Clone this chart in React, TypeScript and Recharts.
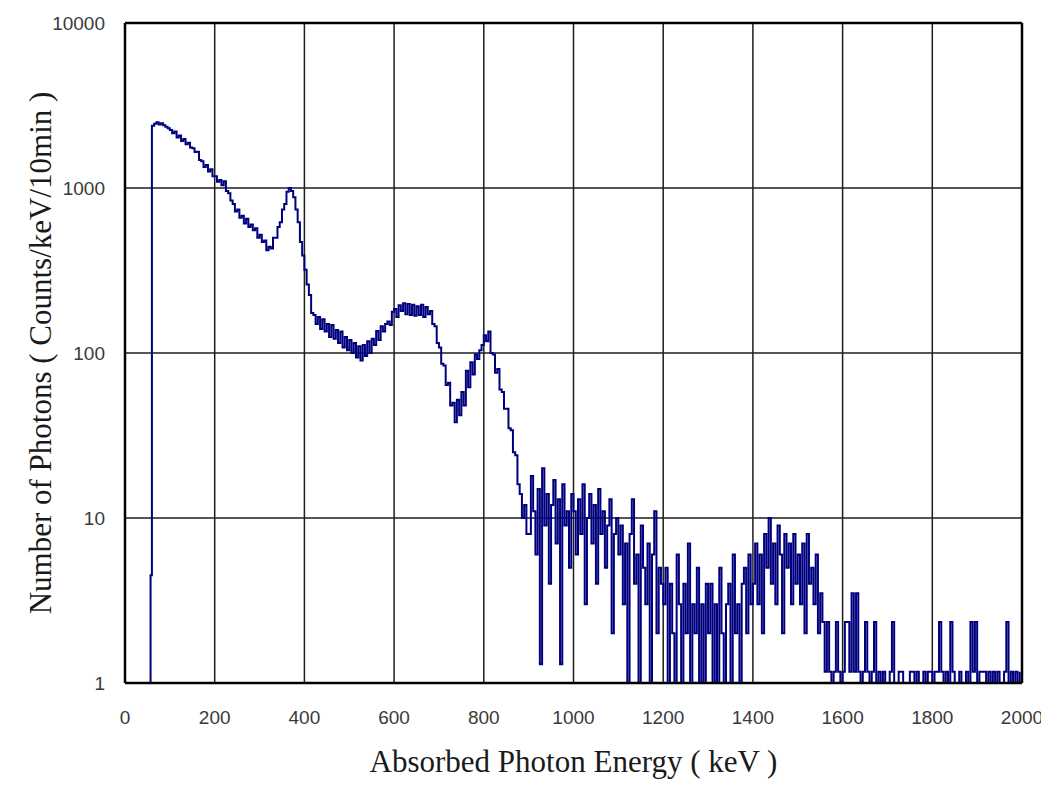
import { LineChart, Line, XAxis, YAxis, CartesianGrid, ReferenceLine } from 'recharts';

// onset of the spectrum (keV, counts/keV/10min)
const leadEnergy = [55, 57];
const leadCounts = [0.5, 4.5];

// 5 keV channels; 0.5 = empty channel (below the log axis)
const channelStep = 5;
const c060 = [2380, 2450, 2500, 2430, 2470, 2400, 2350, 2300];
const c100 = [2250, 2150, 2200, 2020, 2080, 1930, 1980, 1840, 1880, 1760, 1740, 1650, 1660, 1480, 1450, 1340, 1380, 1260, 1300, 1180];
const c200 = [1180, 1090, 1120, 1040, 1100, 960, 930, 840, 800, 720, 740, 660, 680, 610, 650, 580, 600, 555, 570, 500];
const c300 = [520, 470, 480, 420, 440, 430, 500, 500, 580, 620, 740, 800, 950, 1000, 960, 880, 740, 620, 470, 390];
const c400 = [320, 260, 225, 175, 170, 150, 165, 140, 160, 135, 150, 125, 148, 122, 138, 115, 135, 108, 125, 104];
const c500 = [120, 100, 115, 94, 110, 90, 112, 96, 118, 100, 122, 112, 136, 120, 145, 135, 150, 155, 148, 178];
const c600 = [185, 165, 195, 180, 200, 172, 198, 170, 196, 168, 192, 170, 196, 165, 190, 172, 180, 150, 145, 115];
const c700 = [108, 86, 84, 64, 66, 48, 50, 38, 52, 42, 58, 48, 78, 62, 88, 74, 98, 92, 104, 112];
const c800 = [128, 118, 135, 100, 98, 76, 80, 60, 58, 46, 46, 35, 34, 25, 24, 16, 14, 10, 12, 8];
const c900 = [8, 18, 11, 6, 15, 1.3, 20, 9, 14, 4, 12, 17, 7, 13, 1.3, 16, 9, 11, 5, 14];
const c1000 = [11, 6, 13, 8, 16, 3, 10, 14, 7, 12, 4, 15, 8, 11, 5, 9, 13, 2, 8, 10];
const c1100 = [6, 9, 3, 7, 0.5, 8, 13, 4, 6, 1, 9, 5, 3, 7, 0.5, 6, 11, 2, 5, 4];
const c1200 = [3, 5, 1, 4, 2, 0.5, 6, 3, 1, 4, 2, 7, 0.5, 3, 2, 5, 1, 3, 0.5, 4];
const c1300 = [2, 4, 0.5, 3, 1, 5, 2, 0.5, 3, 4, 1, 6, 2, 3, 0.5, 4, 5, 2, 6, 3];
const c1400 = [4, 7, 3, 6, 2, 8, 5, 10, 4, 7, 3, 9, 6, 2, 8, 5, 7, 3, 8, 4];
const c1500 = [6, 3, 7, 2, 8, 4, 5, 3, 6, 2, 3.5, 2.34, 1.17, 2.34, 1.17, 0.5, 1.17, 2.34, 1.17, 0.5];
const c1600 = [1.17, 2.34, 2.34, 1.17, 3.5, 1.17, 3.5, 1.17, 0.5, 1.17, 2.34, 1.17, 0.5, 1.17, 2.34, 0.5, 1.17, 0.5, 1.17, 0.5];
const c1700 = [0.5, 1.17, 2.34, 0.5, 0.5, 1.17, 1.17, 0.5, 0.5, 0.5, 1.17, 1.17, 0.5, 1.17, 0.5, 0.5, 1.17, 0.5, 1.17, 1.17];
const c1800 = [0.5, 1.17, 1.17, 2.34, 1.17, 0.5, 1.17, 0.5, 2.34, 1.17, 0.5, 0.5, 1.17, 0.5, 0.5, 1.17, 0.5, 2.34, 1.17, 2.34];
const c1900 = [0.5, 1.17, 1.17, 1.17, 0.5, 1.17, 0.5, 1.17, 0.5, 1.17, 0.5, 0.5, 1.17, 2.34, 0.5, 1.17, 0.5, 1.17, 0.5, 1.17];

const segments: [number, number[]][] = [
    [60, c060], [100, c100], [200, c200], [300, c300], [400, c400], [500, c500],
    [600, c600], [700, c700], [800, c800], [900, c900], [1000, c1000], [1100, c1100],
    [1200, c1200], [1300, c1300], [1400, c1400], [1500, c1500], [1600, c1600],
    [1700, c1700], [1800, c1800], [1900, c1900],
];

const xTicks = [0, 200, 400, 600, 800, 1000, 1200, 1400, 1600, 1800, 2000];
const yTicks = [1, 10, 100, 1000, 10000];

const data = [
    ...leadEnergy.map((e, i) => ({ energy: e, counts: leadCounts[i] })),
    ...segments.flatMap(([start, counts]) =>
        counts.map((c, i) => ({ energy: start + i * channelStep, counts: c }))
    ),
];

const tickStyle = { fontFamily: '"Liberation Sans", Arial, sans-serif', fontSize: 19, fill: '#3a3a3a' };
const titleStyle = { fontFamily: '"Liberation Serif", "Times New Roman", serif', fontSize: 31, fill: '#1a1a1a' };

export default function App() {
    return (
        <div style={{ width: 1041, height: 776, background: '#fff' }}>
            <LineChart width={1041} height={776} data={data} margin={{ top: 15, right: 27, left: 0, bottom: 0 }}>
                <CartesianGrid stroke="#1e1e1e" strokeWidth={1.5} horizontalValues={yTicks} verticalValues={xTicks} />
                <XAxis
                    dataKey="energy"
                    type="number"
                    domain={[0, 2000]}
                    ticks={xTicks}
                    interval={0}
                    allowDataOverflow
                    height={101}
                    tickLine={false}
                    tickSize={6}
                    tickMargin={22}
                    axisLine={{ stroke: '#000', strokeWidth: 2.5 }}
                    tick={tickStyle}
                    label={{ value: 'Absorbed Photon Energy ( keV )', position: 'insideBottom', offset: 12, style: titleStyle }}
                />
                <YAxis
                    scale="log"
                    domain={[1, 10000]}
                    ticks={yTicks}
                    interval={0}
                    allowDataOverflow
                    width={117}
                    tickLine={false}
                    tickSize={6}
                    tickMargin={14}
                    axisLine={{ stroke: '#000', strokeWidth: 2.5 }}
                    tick={tickStyle}
                    label={{ value: 'Number of Photons ( Counts/keV/10min )', angle: -90, position: 'insideLeft', offset: 32, textAnchor: 'middle', style: titleStyle }}
                />
                <ReferenceLine y={10000} stroke="#000" strokeWidth={2.5} />
                <ReferenceLine x={2000} stroke="#000" strokeWidth={2.5} />
                <Line
                    type="stepAfter"
                    dataKey="counts"
                    stroke="#00007f"
                    strokeWidth={2}
                    dot={false}
                    isAnimationActive={false}
                />
            </LineChart>
        </div>
    );
}
